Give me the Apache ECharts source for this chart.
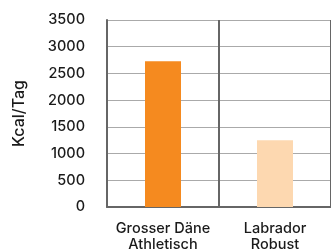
<!DOCTYPE html>
<html>
<head>
<meta charset="utf-8">
<script src="https://cdn.jsdelivr.net/npm/echarts@6/dist/echarts.min.js"></script>
<style>
  html, body { margin: 0; padding: 0; background: #fff; }
  #chart { width: 331px; height: 250px; }
</style>
</head>
<body>
<div id="chart"></div>
<script>
const categories = ['Grosser Däne\nAthletisch', 'Labrador\nRobust'];
const kcal = [2730, 1250];
const barColors = ['#F58A1F', '#FDD8B0'];

const chart = echarts.init(document.getElementById('chart'));

const option = {
  backgroundColor: '#ffffff',
  animation: false,
  textStyle: { fontFamily: 'Inter' },
  grid: { left: 107, right: 0, top: 20, bottom: 43, outerBoundsMode: 'none' },
  xAxis: {
    type: 'category',
    data: categories,
    axisLine: { lineStyle: { color: '#666', width: 2 } },
    axisTick: { show: false },
    splitLine: { show: true, lineStyle: { color: '#666', width: 2 } },
    axisLabel: {
      color: '#1a1a1a',
      fontSize: 14.5,
      fontWeight: 500,
      lineHeight: 16,
      margin: 14,
      interval: 0
    }
  },
  yAxis: {
    type: 'value',
    min: 0,
    max: 3500,
    interval: 500,
    name: 'Kcal/Tag',
    nameLocation: 'middle',
    nameGap: 80,
    nameTextStyle: { color: '#1a1a1a', fontSize: 16, fontWeight: 500 },
    axisLine: { show: true, lineStyle: { color: '#666', width: 2 } },
    axisTick: { show: false },
    splitLine: { lineStyle: { color: '#aaa', width: 1 } },
    axisLabel: {
      color: '#1a1a1a',
      fontSize: 14.5,
      fontWeight: 500,
      margin: 22,
      formatter: v => String(v)
    }
  },
  series: [{
    type: 'bar',
    barWidth: 36,
    data: kcal.map((v, i) => ({ value: v, itemStyle: { color: barColors[i] } }))
  }]
};

chart.setOption(option);
</script>
</body>
</html>
